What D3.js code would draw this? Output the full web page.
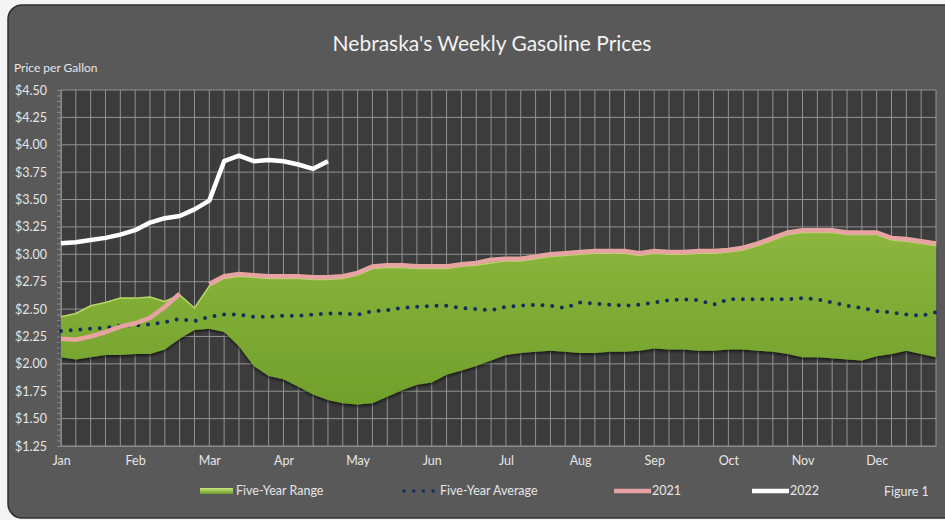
<!DOCTYPE html>
<html>
<head>
<meta charset="utf-8">
<script src="https://cdn.jsdelivr.net/npm/d3@7"></script>
<style>
    body { margin: 0; background: #f4f4f4; }
    svg text { font-family: Lato, "Open Sans", sans-serif; }
</style>
</head>
<body>
<div id="chart"></div>
<script>
//Datos (semanas, índice 0..59)
const MONTHS = ['Jan', 'Feb', 'Mar', 'Apr', 'May', 'Jun', 'Jul', 'Aug', 'Sep', 'Oct', 'Nov', 'Dec'];
const Y_TICKS = [1.25, 1.50, 1.75, 2.00, 2.25, 2.50, 2.75, 3.00, 3.25, 3.50, 3.75, 4.00, 4.25, 4.50];

const rangeLow = [2.06, 2.04, 2.06, 2.08, 2.08, 2.09, 2.09, 2.13, 2.23, 2.31,
    2.32, 2.29, 2.16, 1.98, 1.89, 1.86, 1.79, 1.72, 1.67, 1.64,
    1.63, 1.64, 1.70, 1.76, 1.81, 1.83, 1.90, 1.94, 1.98, 2.03,
    2.08, 2.10, 2.11, 2.12, 2.11, 2.10, 2.10, 2.11, 2.11, 2.12,
    2.14, 2.13, 2.13, 2.12, 2.12, 2.13, 2.13, 2.12, 2.11, 2.09,
    2.06, 2.06, 2.05, 2.04, 2.03, 2.07, 2.09, 2.12, 2.09, 2.06];

const rangeHigh = [2.43, 2.46, 2.53, 2.56, 2.60, 2.60, 2.61, 2.57, 2.63, 2.51,
    2.71, 2.78, 2.80, 2.79, 2.78, 2.78, 2.78, 2.77, 2.77, 2.78,
    2.81, 2.87, 2.88, 2.88, 2.87, 2.87, 2.87, 2.89, 2.90, 2.92,
    2.94, 2.94, 2.96, 2.98, 2.99, 3.00, 3.01, 3.01, 3.01, 2.99,
    3.01, 3.00, 3.00, 3.01, 3.01, 3.02, 3.04, 3.08, 3.13, 3.18,
    3.20, 3.20, 3.20, 3.18, 3.18, 3.18, 3.13, 3.12, 3.10, 3.08];

const avgFive = [2.30, 2.31, 2.32, 2.33, 2.35, 2.35, 2.36, 2.38, 2.41, 2.39,
    2.43, 2.45, 2.45, 2.43, 2.43, 2.44, 2.44, 2.45, 2.46, 2.46,
    2.45, 2.48, 2.49, 2.51, 2.52, 2.53, 2.53, 2.51, 2.50, 2.49,
    2.52, 2.53, 2.54, 2.53, 2.51, 2.56, 2.55, 2.54, 2.53, 2.54,
    2.56, 2.58, 2.59, 2.58, 2.54, 2.59, 2.59, 2.59, 2.59, 2.59,
    2.60, 2.59, 2.56, 2.53, 2.51, 2.48, 2.47, 2.45, 2.44, 2.47];

const prices2021 = [2.23, 2.22, 2.25, 2.29, 2.34, 2.37, 2.42, 2.52, 2.64, null,
    2.73, 2.80, 2.82, 2.81, 2.80, 2.80, 2.80, 2.79, 2.79, 2.80,
    2.83, 2.89, 2.90, 2.90, 2.89, 2.89, 2.89, 2.91, 2.92, 2.95,
    2.96, 2.96, 2.98, 3.00, 3.01, 3.02, 3.03, 3.03, 3.03, 3.01,
    3.03, 3.02, 3.02, 3.03, 3.03, 3.04, 3.06, 3.10, 3.15, 3.20,
    3.22, 3.22, 3.22, 3.20, 3.20, 3.20, 3.15, 3.14, 3.12, 3.10];

const prices2022 = [3.10, 3.11, 3.13, 3.15, 3.18, 3.22, 3.29, 3.33, 3.35, 3.41,
    3.49, 3.85, 3.90, 3.85, 3.86, 3.85, 3.82, 3.78, 3.85];

//Colores
const COLOR_BG = '#595959',
    COLOR_PLOT = '#3c3c3c',
    COLOR_GRID = '#939393',
    COLOR_TEXT = '#e6e6e6',
    COLOR_AVG = '#14305a',
    COLOR_2021 = '#e6a3a1',
    COLOR_2022 = '#ffffff';

init();

function init() {
    let W = 945, H = 520;
    let margin = {top: 90, right: 9, bottom: 74, left: 61},
        width = W - margin.left - margin.right,
        height = H - margin.top - margin.bottom;

    let svg = d3.select('#chart')
        .append('svg')
            .attr('width', W)
            .attr('height', H);

    let defs = svg.append('defs');

    let grad = defs.append('linearGradient')
        .attr('id', 'greenFill')
        .attr('x1', 0).attr('y1', 0).attr('x2', 0).attr('y2', 1);
    grad.append('stop').attr('offset', '0%').attr('stop-color', '#8cb63d');
    grad.append('stop').attr('offset', '100%').attr('stop-color', '#71a02c');

    let legGrad = defs.append('linearGradient')
        .attr('id', 'greenLegend')
        .attr('x1', 0).attr('y1', 0).attr('x2', 0).attr('y2', 1);
    legGrad.append('stop').attr('offset', '0%').attr('stop-color', '#c9e77c');
    legGrad.append('stop').attr('offset', '100%').attr('stop-color', '#6f9b2d');

    let shadow = defs.append('filter')
        .attr('id', 'shadow')
        .attr('x', '-5%').attr('y', '-5%').attr('width', '110%').attr('height', '115%');
    shadow.append('feDropShadow')
        .attr('dx', 0).attr('dy', 2)
        .attr('stdDeviation', 1.5)
        .attr('flood-color', '#000')
        .attr('flood-opacity', 0.6);

    //Fondo del gráfico
    svg.append('rect')
        .attr('x', 8).attr('y', 5)
        .attr('width', W + 20).attr('height', 513)
        .attr('rx', 14)
        .attr('fill', COLOR_BG)
        .attr('stroke', '#2f2f2f')
        .attr('stroke-width', 1.5);

    svg.append('text')
        .attr('x', 492).attr('y', 51)
        .attr('text-anchor', 'middle')
        .attr('font-size', 21)
        .attr('fill', '#f2f2f2')
        .text("Nebraska's Weekly Gasoline Prices");

    svg.append('text')
        .attr('x', 14).attr('y', 72)
        .attr('font-size', 12)
        .attr('fill', COLOR_TEXT)
        .text('Price per Gallon');

    let g = svg.append('g')
        .attr('transform', 'translate(' + margin.left + ',' + margin.top + ')');

    let x = d3.scaleLinear()
        .domain([0, rangeLow.length - 1])
        .range([0, width]);

    let y = d3.scaleLinear()
        .domain([1.25, 4.5])
        .range([height, 0]);

    g.append('rect')
        .attr('width', width)
        .attr('height', height)
        .attr('fill', COLOR_PLOT);

    //Rejilla
    g.append('g')
        .selectAll('line')
        .data(d3.range(rangeLow.length))
        .enter()
        .append('line')
            .attr('x1', function(d) { return x(d); })
            .attr('x2', function(d) { return x(d); })
            .attr('y1', 0).attr('y2', height)
            .attr('stroke', COLOR_GRID)
            .attr('stroke-width', 1);

    g.append('g')
        .selectAll('line')
        .data(Y_TICKS)
        .enter()
        .append('line')
            .attr('x1', 0).attr('x2', width)
            .attr('y1', function(d) { return y(d); })
            .attr('y2', function(d) { return y(d); })
            .attr('stroke', COLOR_GRID)
            .attr('stroke-width', 1);

    //Eje Y
    let yMinor = g.append('g')
        .call(d3.axisLeft(y).tickValues(d3.range(1.25, 4.51, 0.05)).tickSize(4).tickFormat(''));
    yMinor.select('.domain').attr('stroke', '#8a8a8a');
    yMinor.selectAll('.tick line').attr('stroke', '#8a8a8a');

    let yAxis = g.append('g')
        .call(d3.axisLeft(y).tickValues(Y_TICKS).tickSize(0).tickPadding(14)
            .tickFormat(function(d) { return '$' + d.toFixed(2); }));
    yAxis.select('.domain').remove();
    yAxis.selectAll('text')
        .attr('font-size', 12.5)
        .attr('fill', COLOR_TEXT)
        .style('font-family', 'Lato, sans-serif');

    //Eje X
    let xAxis = g.append('g')
        .attr('transform', 'translate(0,' + height + ')')
        .call(d3.axisBottom(x).tickValues(d3.range(0, 60, 5)).tickSize(0).tickPadding(10)
            .tickFormat(function(d, i) { return MONTHS[i]; }));
    xAxis.select('.domain').attr('stroke', '#8a8a8a');
    xAxis.selectAll('text')
        .attr('font-size', 12.5)
        .attr('fill', COLOR_TEXT)
        .style('font-family', 'Lato, sans-serif');

    //Rango de cinco años
    let area = d3.area()
        .x(function(d, i) { return x(i); })
        .y0(function(d, i) { return y(rangeLow[i]); })
        .y1(function(d, i) { return y(rangeHigh[i]); });

    g.append('path')
        .datum(rangeLow)
        .attr('d', area)
        .attr('fill', 'url(#greenFill)')
        .attr('filter', 'url(#shadow)');

    g.append('path')
        .datum(rangeHigh)
        .attr('d', d3.line().x(function(d, i) { return x(i); }).y(function(d) { return y(d); }))
        .attr('fill', 'none')
        .attr('stroke', '#b9d86c')
        .attr('stroke-width', 1.5);

    //Media de cinco años
    g.append('path')
        .datum(avgFive)
        .attr('d', d3.line().x(function(d, i) { return x(i); }).y(function(d) { return y(d); }))
        .attr('fill', 'none')
        .attr('stroke', COLOR_AVG)
        .attr('stroke-width', 4)
        .attr('stroke-linecap', 'round')
        .attr('stroke-dasharray', '0,9.7');

    //2021
    g.append('path')
        .datum(prices2021)
        .attr('d', d3.line()
            .defined(function(d) { return d != null; })
            .x(function(d, i) { return x(i); })
            .y(function(d) { return y(d); }))
        .attr('fill', 'none')
        .attr('stroke', COLOR_2021)
        .attr('stroke-width', 4.5);

    //2022
    g.append('path')
        .datum(prices2022)
        .attr('d', d3.line().x(function(d, i) { return x(i); }).y(function(d) { return y(d); }))
        .attr('fill', 'none')
        .attr('stroke', COLOR_2022)
        .attr('stroke-width', 4.5)
        .attr('stroke-linejoin', 'round');

    //Leyenda
    let leg = svg.append('g').attr('font-size', 12.5).attr('fill', COLOR_TEXT);
    let ly = 491;

    leg.append('rect')
        .attr('x', 200).attr('y', ly - 3)
        .attr('width', 33).attr('height', 6)
        .attr('fill', 'url(#greenLegend)');
    leg.append('text').attr('x', 236).attr('y', ly + 4).text('Five-Year Range');

    leg.append('line')
        .attr('x1', 404).attr('x2', 434)
        .attr('y1', ly).attr('y2', ly)
        .attr('stroke', COLOR_AVG)
        .attr('stroke-width', 3.5)
        .attr('stroke-linecap', 'round')
        .attr('stroke-dasharray', '0,9.7');
    leg.append('text').attr('x', 440).attr('y', ly + 4).text('Five-Year Average');

    leg.append('line')
        .attr('x1', 614).attr('x2', 651)
        .attr('y1', ly).attr('y2', ly)
        .attr('stroke', COLOR_2021)
        .attr('stroke-width', 4.5);
    leg.append('text').attr('x', 652).attr('y', ly + 4).text('2021');

    leg.append('line')
        .attr('x1', 752).attr('x2', 789)
        .attr('y1', ly).attr('y2', ly)
        .attr('stroke', COLOR_2022)
        .attr('stroke-width', 4.5);
    leg.append('text').attr('x', 790).attr('y', ly + 4).text('2022');

    leg.append('text').attr('x', 884).attr('y', ly + 5).text('Figure 1');
}
</script>
</body>
</html>
